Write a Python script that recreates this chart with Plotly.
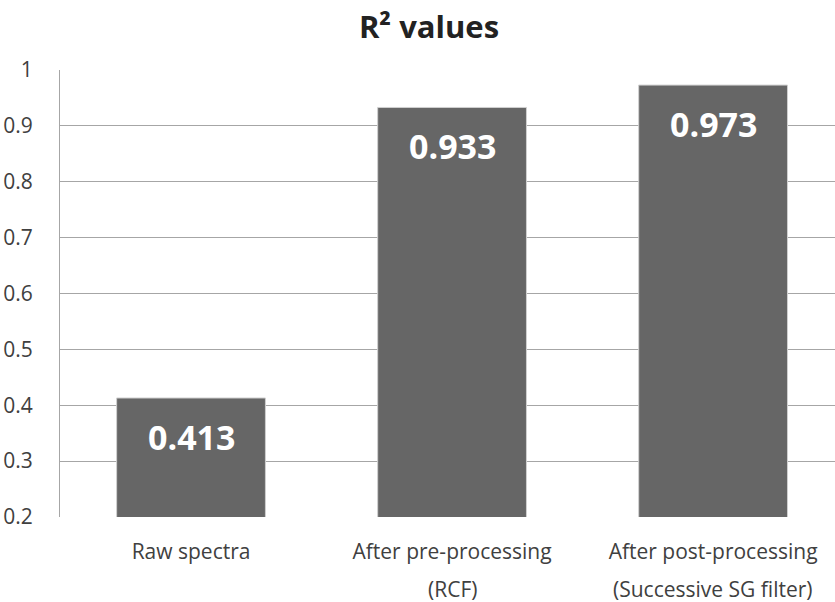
import plotly.graph_objects as go

# Coefficient of determination for each processing stage
categories = ["Raw spectra", "After pre-processing", "After post-processing"]
subtitles = ["", "(RCF)", "(Successive SG filter)"]
r2_values = [0.413, 0.933, 0.973]
y_ticks = [0.2, 0.3, 0.4, 0.5, 0.6, 0.7, 0.8, 0.9, 1]
y_tick_labels = ["0.2", "0.3", "0.4", "0.5", "0.6", "0.7", "0.8", "0.9", "1"]

FONT = "Open Sans, Noto Sans, sans-serif"
BAR_COLOR = "#666666"
GRID_COLOR = "#a6a6a6"
TEXT_COLOR = "#404040"
TICK_SIZE = 21

x_pos = list(range(len(categories)))

fig = go.Figure()
fig.add_trace(go.Bar(
    x=x_pos,
    y=r2_values,
    base=0,
    width=0.57,
    marker=dict(color=BAR_COLOR, line=dict(color="#d0d0d0", width=1)),
    hoverinfo="skip",
))

# Value labels sitting inside the top of each bar
for xi, v in zip(x_pos, r2_values):
    fig.add_annotation(
        x=xi, y=v, xref="x", yref="y",
        text=f"<b>{v:.3f}</b>",
        showarrow=False, yanchor="top", yshift=-14,
        font=dict(family=FONT, size=34, color="white"),
    )

# Second line of the category labels
for xi, s in zip(x_pos, subtitles):
    if s:
        fig.add_annotation(
            x=xi, y=0, xref="x", yref="paper",
            text=s, showarrow=False, yanchor="middle", yshift=-72,
            font=dict(family=FONT, size=TICK_SIZE, color=TEXT_COLOR),
        )

fig.update_layout(
    width=835, height=602,
    margin=dict(l=60, r=0, t=70, b=85),
    paper_bgcolor="white", plot_bgcolor="white",
    showlegend=False,
    title=dict(
        text="<b>R² values</b>",
        x=429 / 835, xanchor="center", y=1 - 27 / 602, yanchor="middle",
        font=dict(family=FONT, size=31, color="#222222"),
    ),
    font=dict(family=FONT, color=TEXT_COLOR),
)

fig.update_xaxes(
    range=[-0.502, 2.467],
    tickmode="array", tickvals=x_pos, ticktext=categories,
    tickfont=dict(family=FONT, size=TICK_SIZE, color=TEXT_COLOR),
    showgrid=False, zeroline=False,
    showline=False, ticks="", ticklabelstandoff=20,
)

fig.update_yaxes(
    range=[0.2, 1.0],
    tickmode="array", tickvals=y_ticks, ticktext=y_tick_labels,
    tickfont=dict(family=FONT, size=TICK_SIZE, color=TEXT_COLOR),
    showgrid=True, gridcolor=GRID_COLOR, gridwidth=1,
    zeroline=False, showline=True, linecolor=GRID_COLOR, linewidth=1,
    ticks="", ticklabelstandoff=22,
)

fig.write_html("out.html")
